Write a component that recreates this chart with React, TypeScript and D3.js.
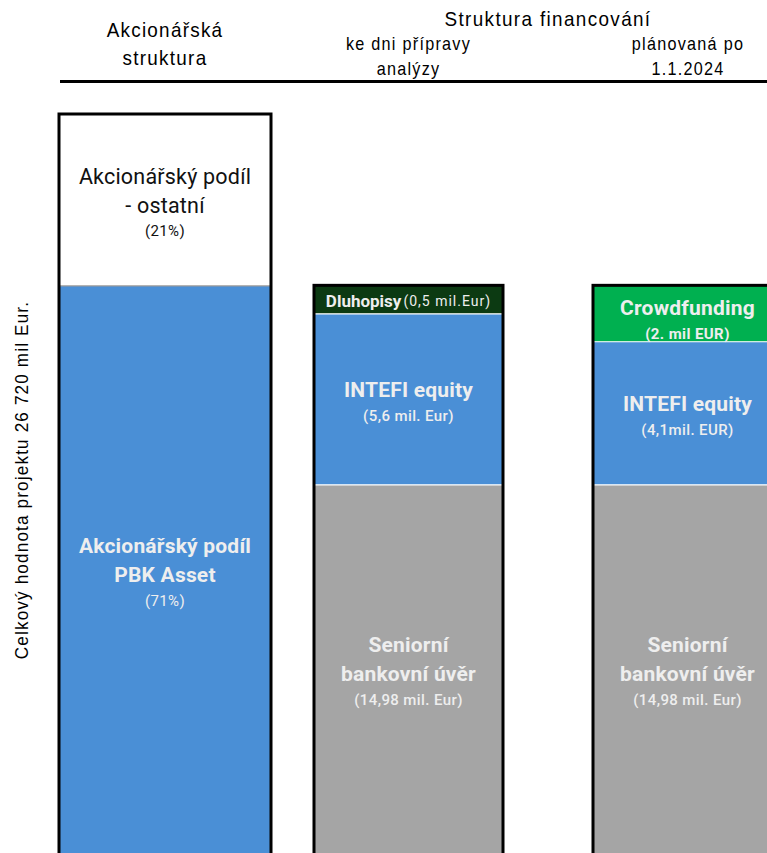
import React, { useEffect, useRef } from "react";
import * as d3 from "d3";

// column headers
const columnHeaders = [["Akcionářská", "struktura"], ["ke dni přípravy", "analýzy"], ["plánovaná po", "1.1.2024"]];
const groupHeader = "Struktura financování";
const axisTitle = "Celkový hodnota projektu  26 720 mil Eur.";
const projectTotal = 26.72; // mil. EUR

// segment values (mil. EUR), bottom to top
const shareholderValues = [2.14, 18.97, 5.61];
const currentValues = [14.62, 5.58, 0.93];
const plannedValues = [14.62, 4.67, 1.84];

const segmentColors = [
  ["#4a8fd6", "#4a8fd6", "#ffffff"],
  ["#a5a5a5", "#4a8fd6", "#0c3a12"],
  ["#a5a5a5", "#4a8fd6", "#00b050"],
];

// labels: [text, fontSize, weight]
type Line = [string, number, number];
const shareholderLabels: Line[][] = [
  [],
  [["Akcionářský podíl", 21, 700], ["PBK Asset", 21, 700], ["(71%)", 15, 400]],
  [["Akcionářský podíl", 21.5, 400], ["- ostatní", 21.5, 400], ["(21%)", 15, 400]],
];
const currentLabels: Line[][] = [
  [["Seniorní", 21, 700], ["bankovní úvěr", 21, 700], ["(14,98 mil. Eur)", 15, 500]],
  [["INTEFI equity", 21, 700], ["(5,6 mil. Eur)", 15, 500]],
  [],
];
const plannedLabels: Line[][] = [
  [["Seniorní", 21, 700], ["bankovní úvěr", 21, 700], ["(14,98 mil. Eur)", 15, 500]],
  [["INTEFI equity", 21, 700], ["(4,1mil. EUR)", 15, 500]],
  [["Crowdfunding", 21, 700], ["(2. mil EUR)", 15, 700]],
];

const allValues = [shareholderValues, currentValues, plannedValues];
const allLabels = [shareholderLabels, currentLabels, plannedLabels];

const App = () => {
  const svgRef = useRef<SVGSVGElement>(null);

  useEffect(() => {
    const w = 767;
    const h = 853;
    const narrow = "'Liberation Sans', Arial, sans-serif";
    const squeeze = 0.9; // fake Arial Narrow
    const label = "Roboto, 'Noto Sans', sans-serif";

    const svg = d3.select(svgRef.current).attr("width", w).attr("height", h);
    svg.selectAll("*").remove();

    const y = d3.scaleLinear().domain([0, projectTotal]).range([933, 114]);
    const colX = [59, 314, 593];
    const colW = [212, 189, 189];

    const narrowText = (g: any, x: number, yy: number, size: number, ls: number, t: string) =>
      g.append("text")
        .attr("transform", `translate(${x},${yy}) scale(${squeeze},1)`)
        .attr("text-anchor", "middle")
        .attr("font-family", narrow)
        .attr("font-size", size)
        .attr("letter-spacing", ls)
        .text(t);

    // headers
    const head = svg.append("g").attr("fill", "#000");
    columnHeaders.forEach((lines, i) => {
      const cx = i === 2 ? 688 : colX[i] + colW[i] / 2;
      const big = i === 0;
      lines.forEach((t, j) => {
        narrowText(head, cx, big ? 37 + j * 28 : 50 + j * 25, big ? 21 : 18, 1.4, t);
      });
    });
    narrowText(head, 548, 26, 21, 1.5, groupHeader);

    svg.append("line")
      .attr("x1", 60).attr("x2", w)
      .attr("y1", 81.5).attr("y2", 81.5)
      .attr("stroke", "#000").attr("stroke-width", 3);

    // axis title
    svg.append("text")
      .attr("transform", `translate(28, 480) rotate(-90) scale(${squeeze},1)`)
      .attr("text-anchor", "middle")
      .attr("font-family", narrow)
      .attr("font-size", 19)
      .attr("letter-spacing", 1.3)
      .text(axisTitle);

    // bars
    allValues.forEach((vals, i) => {
      const g = svg.append("g");
      const stack = d3.cumsum(vals);
      const segs = vals.map((v, j) => ({ v, y0: stack[j] - v, y1: stack[j], j }));
      const x0 = colX[i];
      const bw = colW[i];

      g.selectAll("rect.seg")
        .data(segs)
        .join("rect")
        .classed("seg", true)
        .attr("x", x0)
        .attr("width", bw)
        .attr("y", d => y(d.y1))
        .attr("height", d => y(d.y0) - y(d.y1))
        .attr("fill", d => segmentColors[i][d.j]);

      // separators
      segs.slice(0, -1).forEach(d => {
        g.append("line")
          .attr("x1", x0).attr("x2", x0 + bw)
          .attr("y1", y(d.y1)).attr("y2", y(d.y1))
          .attr("stroke", i === 0 ? "#9a9a9a" : "#ffffff")
          .attr("stroke-width", 1.2);
      });

      // outline
      g.append("rect")
        .attr("x", x0).attr("y", y(stack[stack.length - 1]))
        .attr("width", bw)
        .attr("height", y(0) - y(stack[stack.length - 1]))
        .attr("fill", "none")
        .attr("stroke", "#000")
        .attr("stroke-width", 3);

      // labels
      segs.forEach(d => {
        const lines = allLabels[i][d.j];
        if (!lines.length) return;
        const top = y(d.y1);
        const bot = Math.min(y(d.y0), h);
        const c = (top + bot) / 2 + (i === 2 && d.j === 2 ? 7 : 4);
        const steps = lines.map((l, k) => (k === 0 ? 0 : l[1] < 16 ? 26 : 29));
        const offs = d3.cumsum(steps);
        const span = offs[offs.length - 1];
        const dark = segmentColors[i][d.j] === "#ffffff";
        lines.forEach((l, k) => {
          g.append("text")
            .attr("x", x0 + bw / 2)
            .attr("y", c - span / 2 + offs[k])
            .attr("dominant-baseline", "central")
            .attr("text-anchor", "middle")
            .attr("font-family", label)
            .attr("font-size", l[1])
            .attr("font-weight", l[2])
            .attr("letter-spacing", l[1] < 16 ? 0.4 : 0.2)
            .attr("fill", dark ? "#111" : "#eeeeee")
            .text(l[0]);
        });
      });

      // thin bond segment: inline label
      if (i === 1) {
        const d = segs[2];
        const t = g.append("text")
          .attr("x", x0 + bw / 2)
          .attr("y", (y(d.y1) + y(d.y0)) / 2 + 1)
          .attr("dominant-baseline", "central")
          .attr("text-anchor", "middle")
          .attr("font-family", label)
          .attr("fill", "#eeeeee");
        t.append("tspan").attr("font-size", 17).attr("font-weight", 700).text("Dluhopisy");
        t.append("tspan").attr("font-size", 14).attr("letter-spacing", 1).attr("dx", 2).text("(0,5 mil.Eur)");
      }
    });
  }, []);

  return <svg ref={svgRef} style={{ position: "absolute", left: 0, top: 0, background: "#fff" }} />;
};

export default App;
